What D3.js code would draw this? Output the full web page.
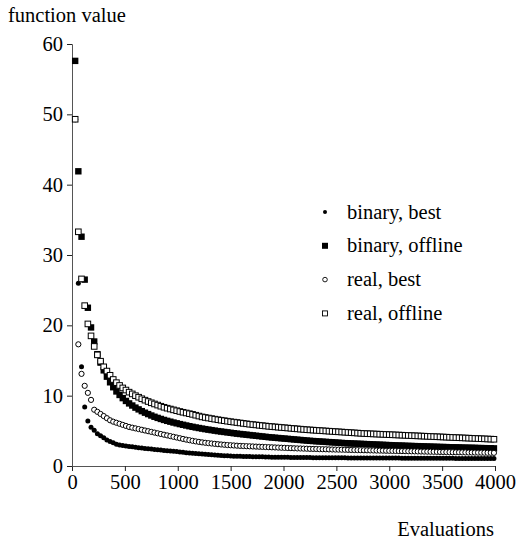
<!DOCTYPE html>
<html>
<head>
<meta charset="utf-8">
<script src="https://cdn.jsdelivr.net/npm/d3@7"></script>
<style>
  body { margin: 0; background: #fff; }
  text { font-family: "Liberation Serif", "Times New Roman", serif; fill: #000; }
</style>
</head>
<body>
<div id="chart"></div>
<script>
// evaluations at which each run was sampled (every 30 evals)
var evaluations = d3.range(30, 4000, 30);

var binaryBest = [
  57.6, 26.0, 14.1, 8.4, 6.4, 5.5, 5.1, 4.6, 4.3, 4.0,
  3.7, 3.5, 3.3, 3.1, 3.0, 2.92, 2.85, 2.78, 2.72, 2.66,
  2.6, 2.55, 2.5, 2.45, 2.4, 2.35, 2.3, 2.26, 2.22, 2.18,
  2.14, 2.1, 2.05, 2.0, 1.95, 1.9, 1.86, 1.82, 1.78, 1.74,
  1.7, 1.68, 1.64, 1.6, 1.56, 1.52, 1.48, 1.46, 1.44, 1.42,
  1.4, 1.39, 1.38, 1.36, 1.35, 1.34, 1.33, 1.32, 1.31, 1.3,
  1.28, 1.27, 1.25, 1.25, 1.24, 1.24, 1.23, 1.23, 1.22, 1.22,
  1.21, 1.21, 1.2, 1.2, 1.2, 1.19, 1.19, 1.18, 1.18, 1.18,
  1.17, 1.17, 1.17, 1.16, 1.16, 1.16, 1.15, 1.15, 1.15, 1.15,
  1.14, 1.14, 1.14, 1.14, 1.13, 1.13, 1.13, 1.13, 1.12, 1.12,
  1.12, 1.12, 1.12, 1.11, 1.11, 1.11, 1.11, 1.11, 1.1, 1.1,
  1.1, 1.1, 1.1, 1.1, 1.09, 1.09, 1.09, 1.09, 1.09, 1.09,
  1.08, 1.08, 1.08, 1.08, 1.08, 1.08, 1.07, 1.07, 1.07, 1.07,
  1.07, 1.07, 1.06
];

var binaryOffline = [
  57.6, 41.9, 32.6, 26.5, 22.5, 19.7, 17.7, 15.9, 14.7, 13.6,
  12.7, 11.9, 11.2, 10.6, 10.1, 9.65, 9.25, 8.9, 8.6, 8.3,
  8.05, 7.8, 7.58, 7.38, 7.18, 7.0, 6.84, 6.69, 6.55, 6.42,
  6.3, 6.18, 6.07, 5.96, 5.86, 5.76, 5.66, 5.57, 5.48, 5.4,
  5.32, 5.24, 5.17, 5.1, 5.03, 4.96, 4.9, 4.84, 4.78, 4.72,
  4.66, 4.6, 4.55, 4.5, 4.45, 4.4, 4.35, 4.3, 4.25, 4.2,
  4.15, 4.1, 4.06, 4.02, 3.98, 3.94, 3.9, 3.86, 3.82, 3.78,
  3.74, 3.7, 3.66, 3.62, 3.58, 3.55, 3.52, 3.49, 3.46, 3.43,
  3.4, 3.37, 3.34, 3.31, 3.28, 3.25, 3.23, 3.21, 3.19, 3.17,
  3.15, 3.13, 3.11, 3.09, 3.07, 3.05, 3.03, 3.01, 2.99, 2.97,
  2.95, 2.93, 2.91, 2.9, 2.88, 2.86, 2.85, 2.83, 2.82, 2.8,
  2.79, 2.77, 2.76, 2.74, 2.73, 2.71, 2.7, 2.69, 2.67, 2.66,
  2.65, 2.64, 2.62, 2.61, 2.6, 2.59, 2.58, 2.56, 2.55, 2.54,
  2.53, 2.52, 2.51
];

var realBest = [
  49.3, 17.3, 13.1, 11.4, 10.4, 9.4, 8.0, 7.7, 7.4, 7.1,
  6.8, 6.5, 6.3, 6.15, 6.0, 5.85, 5.7, 5.55, 5.45, 5.35,
  5.25, 5.15, 5.05, 4.95, 4.85, 4.75, 4.65, 4.55, 4.45, 4.35,
  4.25, 4.15, 4.05, 3.95, 3.85, 3.75, 3.67, 3.58, 3.5, 3.43,
  3.36, 3.3, 3.25, 3.2, 3.15, 3.1, 3.06, 3.02, 2.98, 2.95,
  2.92, 2.89, 2.86, 2.84, 2.82, 2.8, 2.78, 2.76, 2.74, 2.72,
  2.7, 2.68, 2.66, 2.64, 2.62, 2.6, 2.58, 2.56, 2.54, 2.52,
  2.5, 2.49, 2.47, 2.46, 2.44, 2.43, 2.42, 2.4, 2.39, 2.38,
  2.36, 2.35, 2.34, 2.33, 2.32, 2.31, 2.3, 2.28, 2.27, 2.26,
  2.25, 2.24, 2.23, 2.22, 2.21, 2.2, 2.19, 2.18, 2.17, 2.16,
  2.15, 2.14, 2.13, 2.12, 2.11, 2.1, 2.09, 2.08, 2.07, 2.06,
  2.05, 2.04, 2.03, 2.02, 2.01, 2.0, 1.99, 1.98, 1.97, 1.96,
  1.95, 1.95, 1.94, 1.93, 1.92, 1.92, 1.91, 1.9, 1.9, 1.89,
  1.88, 1.88, 1.87
];

var realOffline = [
  49.3, 33.3, 26.6, 22.8, 20.2, 18.5, 17.0, 15.8, 14.9, 14.1,
  13.5, 12.9, 12.3, 11.85, 11.45, 11.1, 10.8, 10.5, 10.25, 10.0,
  9.78, 9.56, 9.36, 9.17, 8.99, 8.82, 8.66, 8.5, 8.35, 8.22,
  8.1, 7.98, 7.86, 7.75, 7.64, 7.54, 7.44, 7.34, 7.22, 7.1,
  6.98, 6.9, 6.82, 6.74, 6.66, 6.58, 6.51, 6.44, 6.37, 6.3,
  6.24, 6.18, 6.12, 6.06, 6.0, 5.94, 5.89, 5.84, 5.79, 5.74,
  5.69, 5.64, 5.6, 5.56, 5.52, 5.48, 5.44, 5.4, 5.36, 5.32,
  5.28, 5.24, 5.2, 5.16, 5.13, 5.1, 5.07, 5.04, 5.01, 4.98,
  4.95, 4.92, 4.89, 4.86, 4.83, 4.8, 4.77, 4.74, 4.71, 4.68,
  4.65, 4.62, 4.6, 4.58, 4.56, 4.54, 4.52, 4.5, 4.48, 4.46,
  4.44, 4.42, 4.4, 4.38, 4.36, 4.34, 4.32, 4.3, 4.28, 4.26,
  4.24, 4.22, 4.2, 4.18, 4.16, 4.14, 4.12, 4.1, 4.08, 4.06,
  4.04, 4.02, 4.0, 3.98, 3.96, 3.94, 3.92, 3.9, 3.88, 3.86,
  3.84, 3.82, 3.8
];

var seriesNames = ["binary, best", "binary, offline", "real, best", "real, offline"];
var xTicks = [0, 500, 1000, 1500, 2000, 2500, 3000, 3500, 4000];
var yTicks = [0, 10, 20, 30, 40, 50, 60];

var svgWidth = 522;
var svgHeight = 542;
var margin = { top: 44, right: 27, bottom: 76, left: 72 };
var width = svgWidth - margin.left - margin.right;
var height = svgHeight - margin.top - margin.bottom;
var fontSize = "20.5px";

var svg = d3.select("#chart")
  .append("svg")
  .attr("width", svgWidth)
  .attr("height", svgHeight);

svg.append("rect").attr("width", svgWidth).attr("height", svgHeight).attr("fill", "#fff");

var chartGroup = svg.append("g")
  .attr("transform", `translate(${margin.left}, ${margin.top})`);

var xScale = d3.scaleLinear().domain([0, 4000]).range([0, width]);
var yScale = d3.scaleLinear().domain([0, 60]).range([height, 0]);

// axes
var bottomAxis = d3.axisBottom(xScale).tickValues(xTicks).tickSize(5).tickPadding(3).tickFormat(d3.format("d"));
var leftAxis = d3.axisLeft(yScale).tickValues(yTicks).tickSize(5).tickPadding(4);

var xAxisG = chartGroup.append("g")
  .attr("transform", `translate(0, ${height})`)
  .call(bottomAxis);
var yAxisG = chartGroup.append("g").call(leftAxis);

[xAxisG, yAxisG].forEach(function(g) {
  g.attr("font-family", null).attr("font-size", null);
  g.select(".domain").attr("stroke", "#555").attr("stroke-width", 1);
  g.selectAll(".tick line").attr("stroke", "#222").attr("stroke-width", 1);
  g.selectAll("text")
    .style("font-family", "'Liberation Serif', serif")
    .style("font-size", fontSize)
    .attr("fill", "#000");
});

// markers
function drawSeries(values, kind) {
  var pts = evaluations.map(function(e, i) { return { x: e, y: values[i] }; });
  var g = chartGroup.append("g");
  if (kind === "binaryBest") {
    g.selectAll("circle").data(pts).enter().append("circle")
      .attr("cx", d => xScale(d.x)).attr("cy", d => yScale(d.y))
      .attr("r", 2.5).attr("fill", "#000");
  } else if (kind === "realBest") {
    g.selectAll("circle").data(pts).enter().append("circle")
      .attr("cx", d => xScale(d.x)).attr("cy", d => yScale(d.y))
      .attr("r", 2.6).attr("fill", "#fff").attr("stroke", "#000").attr("stroke-width", 1);
  } else if (kind === "binaryOffline") {
    g.selectAll("rect").data(pts).enter().append("rect")
      .attr("x", d => xScale(d.x) - 3.2).attr("y", d => yScale(d.y) - 3.2)
      .attr("width", 6.4).attr("height", 6.4).attr("fill", "#000");
  } else {
    g.selectAll("rect").data(pts).enter().append("rect")
      .attr("x", d => xScale(d.x) - 2.8).attr("y", d => yScale(d.y) - 2.8)
      .attr("width", 5.6).attr("height", 5.6).attr("fill", "#fff")
      .attr("stroke", "#000").attr("stroke-width", 1);
  }
}

drawSeries(binaryBest, "binaryBest");
drawSeries(binaryOffline, "binaryOffline");
drawSeries(realBest, "realBest");
drawSeries(realOffline, "realOffline");

// legend
var legend = svg.append("g").attr("transform", "translate(325, 212)");
seriesNames.forEach(function(name, i) {
  var row = legend.append("g").attr("transform", `translate(0, ${i * 33.8})`);
  if (i === 0) row.append("circle").attr("r", 2).attr("fill", "#000");
  if (i === 1) row.append("rect").attr("x", -3).attr("y", -3).attr("width", 6).attr("height", 6).attr("fill", "#000");
  if (i === 2) row.append("circle").attr("r", 2.3).attr("fill", "#fff").attr("stroke", "#000").attr("stroke-width", 0.9);
  if (i === 3) row.append("rect").attr("x", -2.5).attr("y", -2.5).attr("width", 5).attr("height", 5).attr("fill", "#fff").attr("stroke", "#000").attr("stroke-width", 0.9);
  row.append("text")
    .attr("x", 22).attr("y", 6.5)
    .style("font-size", fontSize)
    .text(name);
});

// axis titles
svg.append("text")
  .attr("x", 8).attr("y", 22)
  .style("font-size", fontSize)
  .text("function value");

svg.append("text")
  .attr("x", 494).attr("y", 536)
  .attr("text-anchor", "end")
  .style("font-size", fontSize)
  .text("Evaluations");
</script>
</body>
</html>
